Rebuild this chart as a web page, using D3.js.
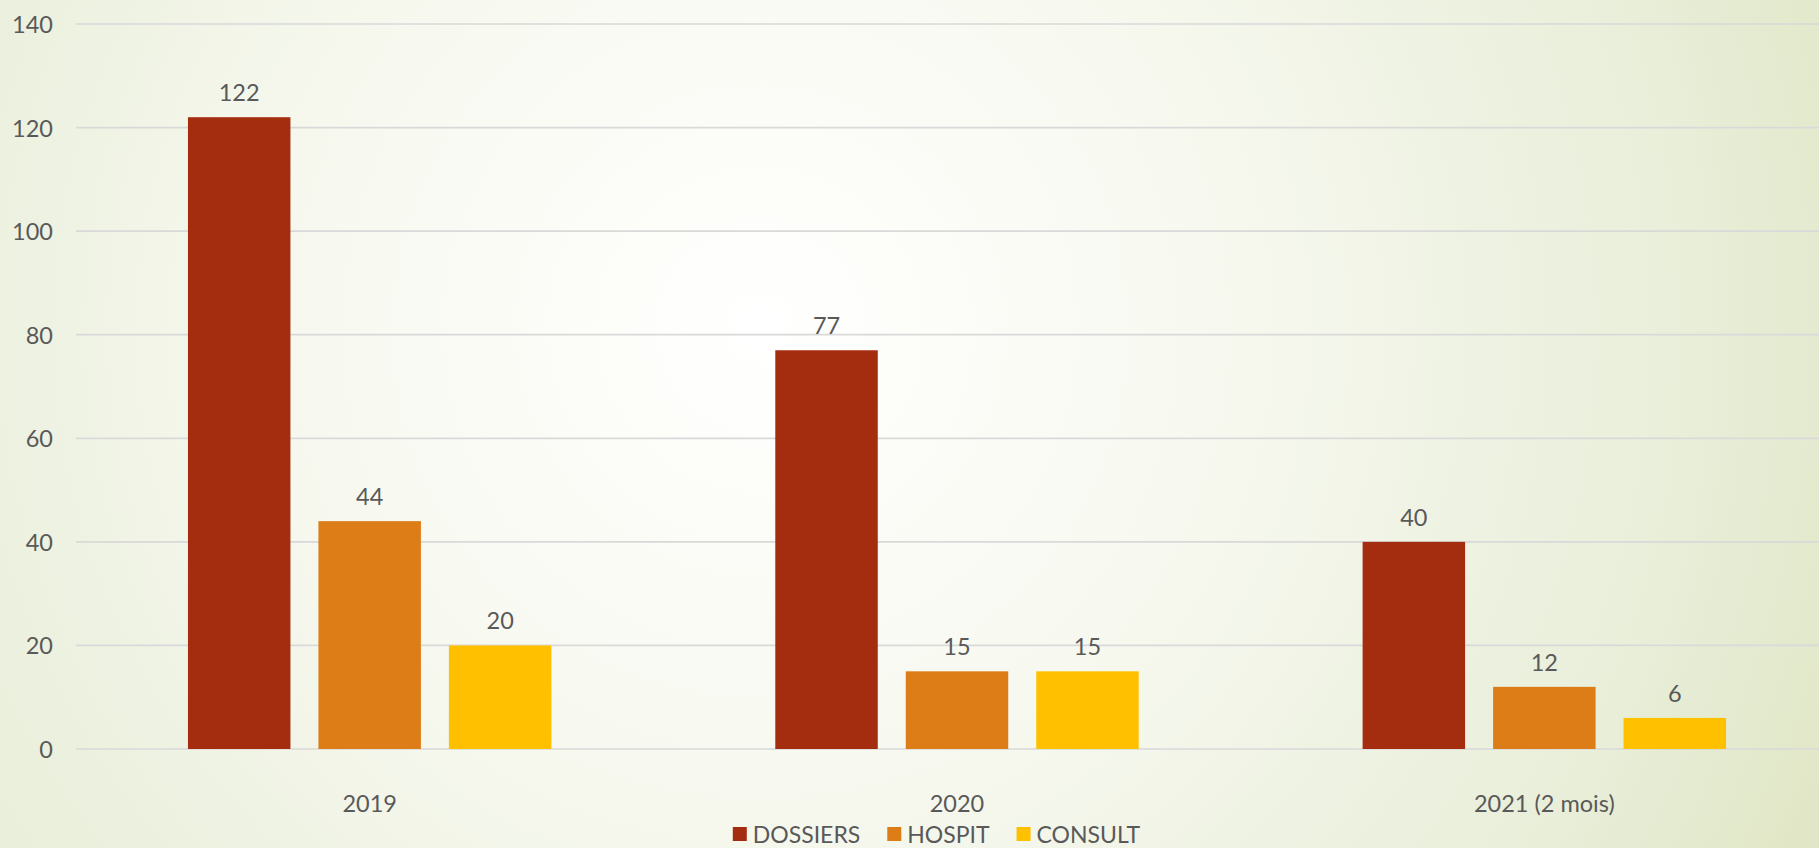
<!DOCTYPE html>
<html>
<head>
<meta charset="utf-8">
<script src="https://cdn.jsdelivr.net/npm/d3@7"></script>
<style>
  html, body { margin: 0; padding: 0; overflow: hidden; }
  svg { display: block; }
  text { font-family: "Lato", "Noto Sans", sans-serif; fill: #595959; }
</style>
</head>
<body>
<svg id="chart" width="1819" height="848"></svg>
<script>
const categories = ["2019", "2020", "2021 (2 mois)"];
const seriesNames = ["DOSSIERS", "HOSPIT", "CONSULT"];
const dossiers = [122, 77, 40];
const hospit = [44, 15, 12];
const consult = [20, 15, 6];
const yTicks = [0, 20, 40, 60, 80, 100, 120, 140];
const colors = ["#A52D0F", "#DD7D18", "#FFC000"];

const seriesValues = [dossiers, hospit, consult];

const W = 1819, H = 848;
const svg = d3.select("#chart");

// background
const defs = svg.append("defs");
const grad = defs.append("radialGradient")
  .attr("id", "bg").attr("gradientUnits", "userSpaceOnUse")
  .attr("cx", 760).attr("cy", 330).attr("r", 1150);
[[0, "#FFFFFF"], [0.12, "#FDFDFA"], [0.43, "#F6F8EE"], [0.63, "#EEF2E2"],
 [0.76, "#EAF0DC"], [0.9, "#E5EBD1"], [1, "#E1E7C6"]].forEach(([o, c]) =>
  grad.append("stop").attr("offset", o).attr("stop-color", c));
svg.append("rect").attr("width", W).attr("height", H).attr("fill", "url(#bg)");

const y = d3.scaleLinear().domain([0, 140]).range([749, 24]);
const x0 = d3.scaleBand().domain(categories).range([76, 1838]).paddingInner(0).paddingOuter(0);
const x1 = d3.scaleBand().domain(seriesNames).range([0, x0.bandwidth()])
  .paddingInner(0.2146).paddingOuter(0.858);

// gridlines
svg.append("g").selectAll("line").data(yTicks).join("line")
  .attr("x1", 76).attr("x2", W)
  .attr("y1", d => y(d)).attr("y2", d => y(d))
  .attr("stroke", "#D9D9D9").attr("stroke-width", 1.7);

// y tick labels
svg.append("g").selectAll("text").data(yTicks).join("text")
  .attr("x", 53).attr("y", d => y(d))
  .attr("text-anchor", "end").attr("dominant-baseline", "central")
  .attr("font-size", 23.5).text(d => d);

// bars
const groups = svg.append("g").selectAll("g").data(categories).join("g")
  .attr("transform", d => `translate(${x0(d)},0)`);

groups.selectAll("rect")
  .data((c, ci) => seriesNames.map((s, si) => ({ s, si, v: seriesValues[si][ci] })))
  .join("rect")
  .attr("x", d => x1(d.s)).attr("width", x1.bandwidth())
  .attr("y", d => y(d.v)).attr("height", d => y(0) - y(d.v))
  .attr("fill", d => colors[d.si]);

groups.selectAll("text.lbl")
  .data((c, ci) => seriesNames.map((s, si) => ({ s, si, v: seriesValues[si][ci] })))
  .join("text").attr("class", "lbl")
  .attr("x", d => x1(d.s) + x1.bandwidth() / 2)
  .attr("y", d => y(d.v) - 16)
  .attr("text-anchor", "middle").attr("font-size", 23.5)
  .text(d => d.v);

// x labels
svg.append("g").selectAll("text").data(categories).join("text")
  .attr("x", d => x0(d) + x0.bandwidth() / 2).attr("y", 812)
  .attr("text-anchor", "middle").attr("font-size", 23.5).text(d => d);

// legend
const legend = svg.append("g");
const items = legend.selectAll("g").data(seriesNames).join("g");
items.append("rect").attr("width", 14).attr("height", 14).attr("y", 827)
  .attr("fill", (d, i) => colors[i]);
items.append("text").attr("x", 20).attr("y", 842.5).attr("font-size", 23).text(d => d);
const widths = [];
items.each(function () { widths.push(20 + this.querySelector("text").getComputedTextLength()); });
const gap = 27;
const total = d3.sum(widths) + gap * (widths.length - 1);
let start = 936.5 - total / 2;
items.attr("transform", (d, i) => {
  const t = `translate(${start},0)`;
  start += widths[i] + gap;
  return t;
});
</script>
</body>
</html>
